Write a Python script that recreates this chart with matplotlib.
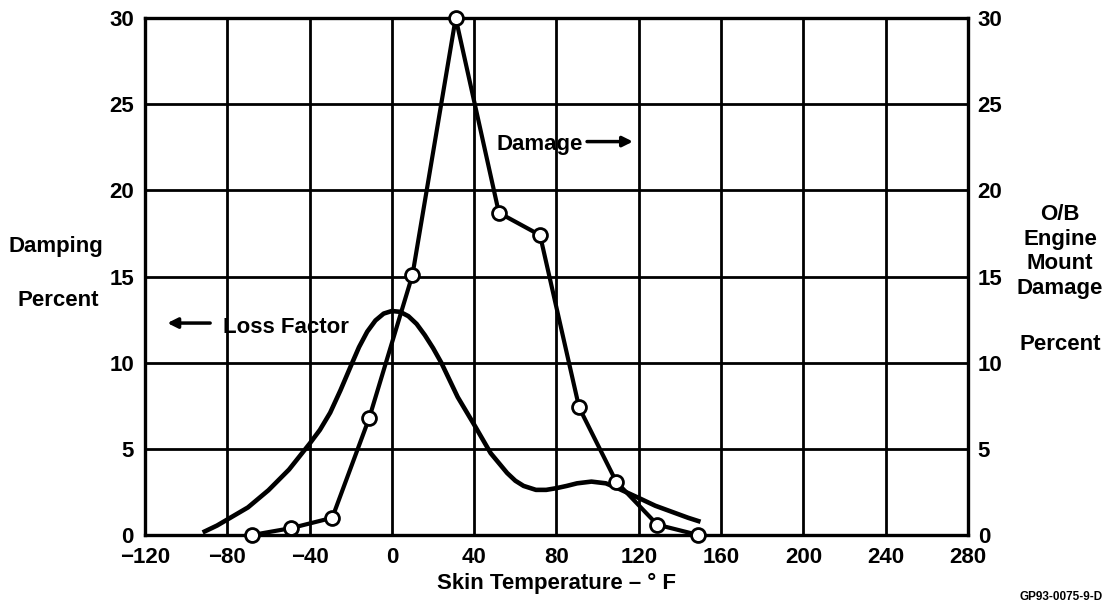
import numpy as np
import matplotlib
matplotlib.use("Agg")
import matplotlib.pyplot as plt

plt.rcParams['font.family'] = ['Liberation Sans', 'DejaVu Sans']
plt.rcParams['font.weight'] = 'bold'
plt.rcParams['axes.labelweight'] = 'bold'

# O/B engine mount damage (right axis)
damage_temp = [-68, -49, -29, -11, 10, 31, 52, 72, 91, 109, 129, 149]
damage_pct = [0.0, 0.4, 1.0, 6.8, 15.1, 30.0, 18.7, 17.4, 7.4, 3.1, 0.6, 0.0]

# loss factor damping (left axis)
loss_temp = [-92, -85, -80, -70, -60, -50, -40, -35, -30, -25, -20, -16, -12, -8, -4,
             0, 4, 8, 12, 16, 20, 24, 32, 40, 48, 56, 60, 64, 70, 75, 80, 85, 90,
             97, 104, 110, 120, 128, 136, 144, 150]
loss_pct = [0.15, 0.55, 0.9, 1.6, 2.6, 3.8, 5.3, 6.1, 7.1, 8.4, 9.8, 10.9, 11.8, 12.45,
            12.85, 13.0, 12.95, 12.7, 12.25, 11.6, 10.85, 10.0, 8.0, 6.4, 4.75, 3.6,
            3.15, 2.85, 2.62, 2.62, 2.72, 2.85, 3.0, 3.1, 3.0, 2.7, 2.15, 1.7, 1.35,
            1.0, 0.77]

xticks = np.arange(-120, 281, 40)
yticks = np.arange(0, 31, 5)

fig = plt.figure(figsize=(11.08, 6.13), dpi=100)
ax = fig.add_axes([0.1309, 0.1272, 0.7427, 0.8434])

ax.set_xlim(-120, 280)
ax.set_ylim(0, 30)
ax.set_xticks(xticks)
ax.set_yticks(yticks)
ax.grid(True, color='black', linewidth=2.0)
ax.set_axisbelow(True)
for sp in ax.spines.values():
    sp.set_linewidth(2.4)
ax.tick_params(length=0, labelsize=16, pad=8)
ax.tick_params(axis='x', pad=8.5)
ax.set_xlabel('Skin Temperature \u2013 \u00b0 F', fontsize=16, labelpad=4)

ax.plot(loss_temp, loss_pct, color='black', linewidth=3.3,
        solid_capstyle='butt', solid_joinstyle='round')
ax.plot(damage_temp, damage_pct, color='black', linewidth=3.0, marker='o',
        markersize=10, markerfacecolor='white', markeredgecolor='black',
        markeredgewidth=2.0, clip_on=False, zorder=5)

ax2 = ax.twinx()
ax2.set_ylim(0, 30)
ax2.set_yticks(yticks)
ax2.tick_params(length=0, labelsize=16, pad=7)
for sp in ax2.spines.values():
    sp.set_visible(False)

# in-plot labels with arrows
ax.annotate('', xy=(-110.5, 12.3), xytext=(-87, 12.3),
            arrowprops=dict(arrowstyle='-|>', color='black', lw=2.5, mutation_scale=15))
ax.text(-82, 11.72, 'Loss Factor', fontsize=16, va='baseline', ha='left')
ax.text(50.9, 22.34, 'Damage', fontsize=16, va='baseline', ha='left')
ax.annotate('', xy=(118.5, 22.83), xytext=(93.5, 22.83),
            arrowprops=dict(arrowstyle='-|>', color='black', lw=2.5, mutation_scale=15))

# axis titles drawn as figure text, like the original
fig.text(0.0505, 0.5897, 'Damping', fontsize=16, ha='center', va='baseline')
fig.text(0.0523, 0.5016, 'Percent', fontsize=16, ha='center', va='baseline')
right_lines = ['O/B', 'Engine', 'Mount', 'Damage']
right_base = [0.6419, 0.6011, 0.5604, 0.5196]
for txt, yb in zip(right_lines, right_base):
    fig.text(0.9567, yb, txt, fontsize=16, ha='center', va='baseline')
fig.text(0.9567, 0.4290, 'Percent', fontsize=16, ha='center', va='baseline')
fig.text(0.958, 0.026, 'GP93-0075-9-D', fontsize=8.5, ha='center', va='center')

fig.savefig('out.png', dpi=100)
